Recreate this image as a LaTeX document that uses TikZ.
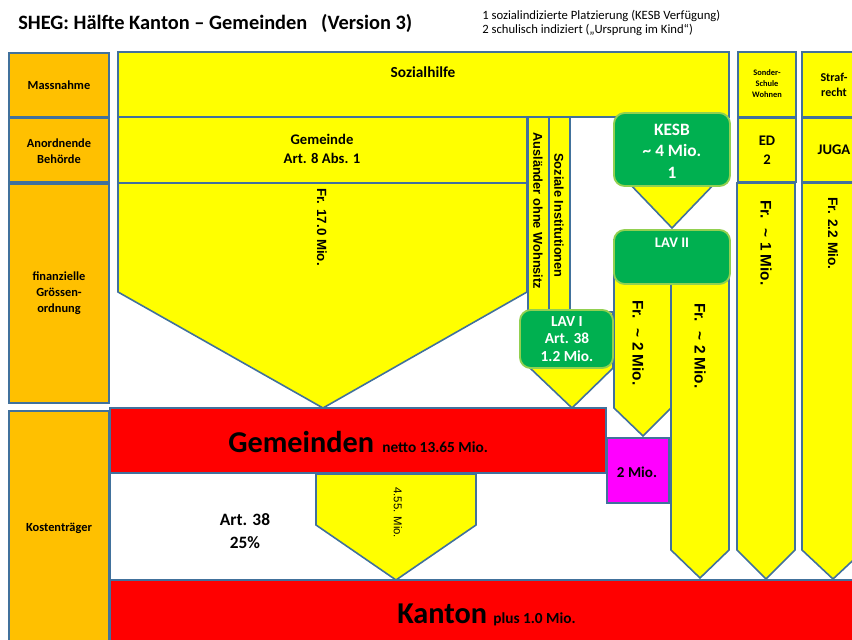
\documentclass[tikz,border=0pt]{standalone}
\usepackage{fontspec}
\setmainfont{Carlito}
\newfontfamily\arialfont{Liberation Sans}
\definecolor{bord}{HTML}{41719C}
\definecolor{yel}{HTML}{FFFF00}
\definecolor{org}{HTML}{FFC000}
\definecolor{rd}{HTML}{FF0000}
\definecolor{mag}{HTML}{FF00FF}
\definecolor{grn}{HTML}{00B050}
\definecolor{grnb}{HTML}{92D050}
\newcommand\fsz[1]{\fontsize{#1pt}{\dimexpr #1pt*13/10\relax}\selectfont}
\begin{document}
\begin{tikzpicture}[x=0.75pt,y=-0.75pt,
  shp/.style={draw=bord,line width=1.2pt,line join=miter},
  ybox/.style={shp,fill=yel},
  obox/.style={shp,fill=org},
  rbox/.style={shp,fill=rd},
  gbox/.style={draw=grnb,line width=1.4pt,fill=grn,rounded corners=8pt},
  txt/.style={align=center,inner sep=0pt,font=\bfseries\fsz{#1}},
  wtxt/.style={txt=#1,text=white},
  rtxt/.style={inner sep=0pt,rotate=-90,font=\arialfont\bfseries\fsz{#1}},
]
\useasboundingbox (0,0) rectangle (852,639);
\clip (0,0) rectangle (852,639);

% title and notes
\node[anchor=base west,inner sep=0pt,font=\bfseries\fsz{15.3}] (title) at (18,29) {SHEG: Hälfte Kanton – Gemeinden\ \ \ (Version 3)};
\node[anchor=base west,inner sep=0pt,font=\fsz{9.5}] (note1) at (482,19) {1 sozialindizierte Platzierung (KESB Verfügung)};
\node[anchor=base west,inner sep=0pt,font=\fsz{9.5}] (note2) at (482,33) {2 schulisch indiziert („Ursprung im Kind“)};

% left column
\path[obox] (9,53) rectangle (109,117);
\path[obox] (9,118) rectangle (109,182);
\path[obox] (9,184) rectangle (109,403);
\path[obox] (9,411) rectangle (109,650);
\node[txt=9.3] (massnahme) at (59,85) {Massnahme};
\node[txt=9.3] (behoerde) at (59,151) {Anordnende\\Behörde};
\node[txt=9.3] (groesse) at (59,293) {finanzielle\\Grössen-\\ordnung};
\node[txt=9.3] (kosten) at (59,528) {Kostenträger};

% Sozialhilfe + Gemeinde
\path[ybox] (118,52) rectangle (729,117);
\node[txt=11.5] (sozialhilfe) at (423,72) {Sozialhilfe};
\path[ybox] (118,117) rectangle (527,183);
\node[txt=11] (gemeinde) at (322,149) {Gemeinde\\Art. 8 Abs. 1};
\path[ybox] (118,183) -- (527,183) -- (527,292) -- (323,408) -- (118,292) -- cycle;
\node[rtxt=10,anchor=west] (fr17) at (322,188) {Fr. 17.0 Mio.};

% strips
\path[ybox] (528,117) rectangle (549,312);
\path[ybox] (549,117) rectangle (570,312);
\node[rtxt=9.6,anchor=west] (auslaender) at (538,132) {Ausländer ohne Wohnsitz};
\node[rtxt=9.6,anchor=west] (sozinst) at (559,153) {Soziale Institutionen};

% KESB
\path[ybox] (626,180) -- (718,180) -- (672,228) -- cycle;
\path[gbox] (614,113) rectangle (730,186);
\node[align=center,inner sep=0pt,text=white,font=\bfseries\fontsize{13pt}{16pt}\selectfont] (kesb) at (672,151) {KESB\\\textasciitilde\ 4 Mio.\\1};

% LAV II arrows
\path[ybox] (614,240) -- (671,240) -- (671,408) -- (643,436) -- (614,408) -- cycle;
\path[ybox] (671,240) -- (729,240) -- (729,550) -- (700,578) -- (671,550) -- cycle;
\path[gbox] (614,230) rectangle (730,284);
\node[wtxt=11] (lav2) at (672,243) {LAV II};
\node[rtxt=11.5,anchor=west] (fr2a) at (638,300) {Fr. \ \textasciitilde\ 2 Mio.};
\node[rtxt=11.5,anchor=west] (fr2b) at (700,303) {Fr. \ \textasciitilde\ 2 Mio.};

% LAV I
\path[ybox] (530,312) -- (613,312) -- (613,368) -- (572,408) -- (530,368) -- cycle;
\path[gbox] (520,310) rectangle (613,368);
\node[align=center,inner sep=0pt,text=white,font=\bfseries\fontsize{11.5pt}{13.3pt}\selectfont] (lav1) at (567,339) {LAV I\\Art. 38\\1.2 Mio.};

% Gemeinden
\draw[shp] (110,473) -- (110,580);
\path[rbox] (110,408) rectangle (606,473);
\node[anchor=base west,inner sep=0pt,font=\bfseries\fsz{22.7}] (gemeinden) at (228,452) {Gemeinden};
\node[anchor=base west,inner sep=0pt,font=\bfseries\fsz{11.5}] (netto) at (382,452) {netto 13.65 Mio.};
\path[shp,fill=mag] (607,438) rectangle (669,503);
\node[txt=11.3] (zweimio) at (637,472) {2 Mio.};
\node[txt=13] (art38) at (245,531) {Art. 38\\25\%};
\path[ybox] (316,474) -- (476,474) -- (476,525) -- (396,580) -- (316,525) -- cycle;
\node[inner sep=0pt,rotate=-90,anchor=west,font=\arialfont\fsz{8.5}] (f455) at (398,487) {4.55. Mio.};

% right columns
\path[ybox] (738,52) rectangle (796,117);
\node[txt=6.3] (sonder) at (767,84) {Sonder-\\Schule\\Wohnen};
\path[ybox] (738,118) rectangle (796,182);
\node[txt=11] (ed) at (767,150) {ED\\2};
\path[ybox] (737,183) -- (795,183) -- (795,550) -- (766,579) -- (737,550) -- cycle;
\node[rtxt=11.5,anchor=west] (fr1) at (766,200) {Fr. \ \textasciitilde\ 1 Mio.};
\path[ybox] (802,52) rectangle (866,117);
\node[txt=9] (straf) at (834,85) {Straf-\\recht};
\path[ybox] (802,118) rectangle (866,182);
\node[txt=11] (juga) at (834,150) {JUGA};
\path[ybox] (802,183) -- (864,183) -- (864,550) -- (833,579) -- (802,550) -- cycle;
\node[rtxt=10.3,anchor=west] (fr22) at (833,197) {Fr. 2.2 Mio.};

% Kanton
\path[rbox] (110,580) rectangle (870,650);
\node[anchor=base west,inner sep=0pt,font=\bfseries\fsz{22.7}] (kanton) at (397,623) {Kanton};
\node[anchor=base west,inner sep=0pt,font=\bfseries\fsz{11.5}] (plus) at (493,623) {plus 1.0 Mio.};
\end{tikzpicture}
\end{document}
